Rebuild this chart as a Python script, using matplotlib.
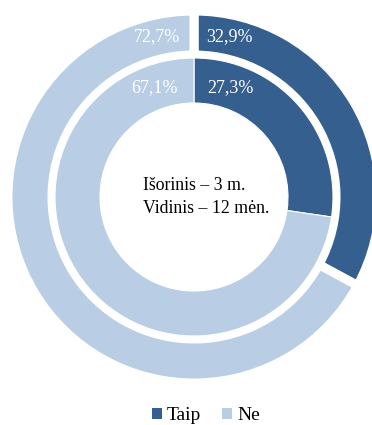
import matplotlib
matplotlib.use("Agg")
import matplotlib.pyplot as plt
from matplotlib.patches import Patch

categories = ["Taip", "Ne"]
outer_values = [32.9, 67.1]   # Išorinis – 3 m.
inner_values = [27.3, 72.7]   # Vidinis – 12 mėn.
# labels as printed in the original chart
outer_labels = ["32,9%", "72,7%"]
inner_labels = ["27,3%", "67,1%"]
center_lines = ["Išorinis – 3 m.", "Vidinis – 12 mėn."]

colors = ["#355F8E", "#B9CDE4"]
W, H = 372, 425
cx, cy = 194, H - 197

plt.rcParams['font.family'] = ['Liberation Serif', 'DejaVu Serif']
fig = plt.figure(figsize=(W / 100, H / 100), dpi=100)
ax = fig.add_axes([0, 0, 1, 1])

ax.pie(outer_values, colors=colors, radius=186, center=(cx, cy),
       startangle=90, counterclock=False, frame=True,
       wedgeprops=dict(width=44, edgecolor='white', linewidth=6.5))
ax.pie(inner_values, colors=colors, radius=139, center=(cx, cy),
       startangle=90, counterclock=False, frame=True,
       wedgeprops=dict(width=45, edgecolor='white', linewidth=0.8))
ax.set_xlim(0, W)
ax.set_ylim(0, H)
ax.set_aspect('equal')
ax.axis('off')

fs = 13
ax.text(cx + 35, H - 37, outer_labels[0], color='white', fontsize=fs, ha='center', va='center')
ax.text(cx - 37, H - 37, outer_labels[1], color='white', fontsize=fs, ha='center', va='center')
ax.text(cx + 36, H - 88, inner_labels[0], color='white', fontsize=fs, ha='center', va='center')
ax.text(cx - 39, H - 88, inner_labels[1], color='white', fontsize=fs, ha='center', va='center')

ax.text(143, H - 185, center_lines[0], fontsize=12.8, ha='left', va='center', color='black')
ax.text(143, H - 208, center_lines[1], fontsize=12.8, ha='left', va='center', color='black')

handles = [Patch(facecolor=c, edgecolor='none') for c in colors]
fig.legend(handles, categories, loc='center', bbox_to_anchor=(206 / W, 1 - 416 / H),
           ncol=2, frameon=False, fontsize=14, handlelength=0.5, handleheight=0.5,
           handletextpad=0.25, columnspacing=1.1)

fig.savefig("out.png", dpi=100)
